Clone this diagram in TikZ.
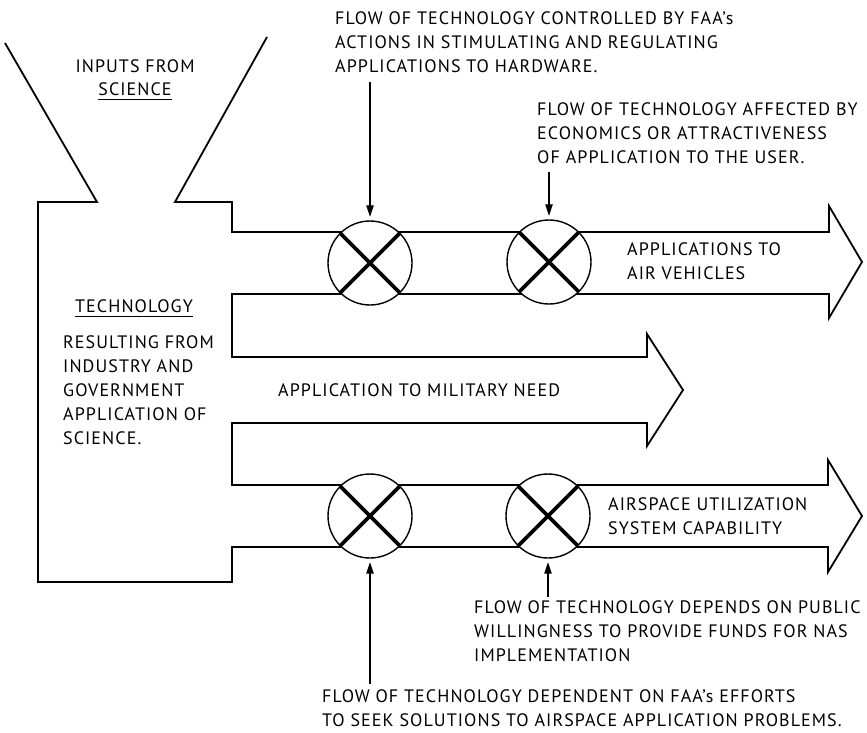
\documentclass[tikz,border=0pt]{standalone}
\usepackage{fontspec}
\setmainfont[LetterSpace=6]{PT Sans}
\usetikzlibrary{arrows.meta}
\newcommand\notefont{\fontsize{18}{24}\selectfont}
\begin{document}
\begin{tikzpicture}[x=1pt,y=-1pt,line join=miter,
  outline/.style={line width=1.8pt},
  valve/.style={circle,draw,fill=white,line width=1.4pt,minimum size=84pt,inner sep=0pt},
  cross/.style={line width=3.8pt,line cap=butt,shorten <=1pt,shorten >=1pt},
  flow/.style={line width=2.4pt,-{Triangle[length=12pt,width=7pt]},shorten >=3pt},
  note/.style={font=\notefont,align=left,anchor=west,inner sep=0pt},
  label/.style={font=\notefont,inner sep=0pt}]
 \useasboundingbox (0,0) rectangle (867,732);
 % funnel, technology block and the three flow arrows
 \draw[outline] (5,43)--(97,202)--(38,202)--(38,582)--(232,582)--(232,547)
   --(828,547)--(828,572)--(862,516)--(828,460)--(828,485)--(232,485)
   --(232,423)--(647,423)--(647,446)--(683,390)--(647,334)--(647,357)--(232,357)
   --(232,294)--(829,294)--(829,318)--(862,262)--(829,206)--(829,232)--(232,232)
   --(232,202)--(175,202)--(267,37);
 % control points
 \node[valve] (v1) at (370,263) {};
 \node[valve] (v2) at (549,262) {};
 \node[valve] (v3) at (370,516) {};
 \node[valve] (v4) at (548,516) {};
 \foreach \v in {v1,v2,v3,v4}
   \draw[cross] (\v.45)--(\v.225) (\v.135)--(\v.-45);
 % influences
 \coordinate (a1) at (370,82);
 \coordinate (a2) at (549,172);
 \coordinate (a3) at (370,684);
 \coordinate (a4) at (548,597);
 \draw[flow] (a1)--(v1);
 \draw[flow] (a2)--(v2);
 \draw[flow] (a3)--(v3);
 \draw[flow] (a4)--(v4);
 % texts
 \node[label] (inp) at (135,66) {INPUTS FROM};
 \node[label] (sci) at (135,89) {SCIENCE};
 \draw[line width=1.5pt] ([yshift=-4pt]sci.south west)--([yshift=-4pt]sci.south east);
 \node[label] (tech) at (134,306) {TECHNOLOGY};
 \draw[line width=1.5pt] ([yshift=-4pt]tech.south west)--([yshift=-4pt]tech.south east);
 \node[note] (res) at (63,390) {RESULTING FROM\\INDUSTRY AND\\GOVERNMENT\\APPLICATION OF\\SCIENCE.};
 \node[label,anchor=west] (mil) at (278,390) {APPLICATION TO MILITARY NEED};
 \node[note] (veh) at (627,261) {APPLICATIONS TO\\AIR VEHICLES};
 \node[note] (nas) at (608,516) {AIRSPACE UTILIZATION\\SYSTEM CAPABILITY};
 \node[note] (faa1) at (335,42) {FLOW OF TECHNOLOGY CONTROLLED BY FAA's\\ACTIONS IN STIMULATING AND REGULATING\\APPLICATIONS TO HARDWARE.};
 \node[note] (usr) at (537,133.5) {FLOW OF TECHNOLOGY AFFECTED BY\\ECONOMICS OR ATTRACTIVENESS\\OF APPLICATION TO THE USER.};
 \node[note] (pub) at (474,631) {FLOW OF TECHNOLOGY DEPENDS ON PUBLIC\\WILLINGNESS TO PROVIDE FUNDS FOR NAS\\IMPLEMENTATION};
 \node[note] (faa2) at (322,708.5) {FLOW OF TECHNOLOGY DEPENDENT ON FAA's EFFORTS\\TO SEEK SOLUTIONS TO AIRSPACE APPLICATION PROBLEMS.};
\end{tikzpicture}
\end{document}
